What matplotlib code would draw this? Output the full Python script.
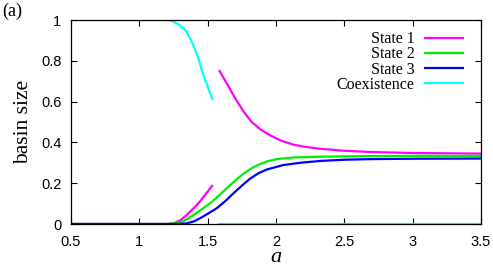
import numpy as np
import matplotlib
matplotlib.use("Agg")
import matplotlib.pyplot as plt

# ---- data ----
nan = np.nan
a_coex = [0.5, 1.0, 1.151, 1.224, 1.249, 1.298, 1.346, 1.395, 1.432, 1.468, 1.505, 1.537,
          nan, 1.576, 3.5]
coex   = [1.0, 1.0, 1.0, 0.998, 0.992, 0.975, 0.943, 0.877, 0.812, 0.730, 0.665, 0.608,
          nan, 0.0, 0.0]

a_s1 = [0.5, 1.2, 1.249, 1.30, 1.346, 1.38, 1.42, 1.45, 1.48, 1.51, 1.537, nan,
        1.583, 1.639, 1.70, 1.761, 1.822, 1.89, 1.956, 2.04, 2.127, 2.225, 2.322,
        2.5, 2.69, 3.0, 3.5]
s1   = [0.0, 0.0, 0.003, 0.018, 0.044, 0.066, 0.093, 0.116, 0.142, 0.167, 0.191, nan,
        0.755, 0.690, 0.618, 0.553, 0.500, 0.462, 0.435, 0.408, 0.389, 0.377, 0.369,
        0.359, 0.353, 0.348, 0.345]

a_s2 = [0.5, 1.22, 1.298, 1.35, 1.395, 1.45, 1.517, 1.58, 1.639, 1.70, 1.761, 1.82,
        1.883, 1.94, 2.005, 2.127, 2.322, 2.69, 3.0, 3.5]
s2   = [0.0, 0.0, 0.008, 0.024, 0.044, 0.069, 0.101, 0.138, 0.175, 0.212, 0.246, 0.273,
        0.294, 0.308, 0.318, 0.326, 0.330, 0.333, 0.334, 0.334]

a_s3 = [0.5, 1.26, 1.346, 1.40, 1.444, 1.50, 1.566, 1.63, 1.688, 1.75, 1.81, 1.87,
        1.932, 2.053, 2.176, 2.322, 2.5, 2.69, 3.0, 3.5]
s3   = [0.0, 0.0, 0.003, 0.013, 0.028, 0.050, 0.077, 0.113, 0.150, 0.188, 0.222, 0.248,
        0.267, 0.289, 0.300, 0.309, 0.315, 0.318, 0.320, 0.321]

xticks = [0.5, 1, 1.5, 2, 2.5, 3, 3.5]
xticklabels = ["0.5", "1", "1.5", "2", "2.5", "3", "3.5"]
yticks = [0, 0.2, 0.4, 0.6, 0.8, 1]
yticklabels = ["0", "0.2", "0.4", "0.6", "0.8", "1"]

serif = "Liberation Serif"
sans = "Liberation Sans"

fig = plt.figure(figsize=(4.93, 2.73), dpi=100)
ax = fig.add_axes([71/493, 1-224/273, 410/493, 204/273])

lw = 1.6
kw = dict(lw=lw, solid_joinstyle="round", solid_capstyle="butt")
ax.plot(a_s1, s1, color="#ff00ff", label="State 1", **kw)
ax.plot(a_s2, s2, color="#00ee00", label="State 2", **kw)
ax.plot(a_coex, coex, color="#00ffff", label="Coexistence", **kw)
ax.plot(a_s3, s3, color="#0000ff", label="State 3", **kw)

ax.set_xlim(0.5, 3.5)
ax.set_ylim(0, 1)
ax.set_xticks(xticks)
ax.set_xticklabels(xticklabels, fontfamily=sans, fontsize=10.5)
ax.set_yticks(yticks)
ax.set_yticklabels(yticklabels, fontfamily=sans, fontsize=10.5)
ax.tick_params(direction="in", length=4, width=0.8, top=True, right=True, pad=7)
ax.tick_params(axis="x", pad=8)
for s in ax.spines.values():
    s.set_linewidth(0.9)

ax.set_xlabel("a", fontfamily=serif, fontstyle="italic", fontsize=16, labelpad=-1)
ax.set_ylabel("basin size", fontfamily=serif, fontsize=15.5, labelpad=6)

h, l = ax.get_legend_handles_labels()
order = [0, 1, 3, 2]
leg = ax.legend([h[i] for i in order], [l[i] for i in order],
                loc="upper right", bbox_to_anchor=(393/410, 0.945),
                frameon=False, markerfirst=False, borderpad=0, borderaxespad=0,
                handlelength=2.5, handletextpad=0.6, labelspacing=-0.05,
                prop={"family": serif, "size": 11.5})

fig.text(2/493, 1-3/273, "(a)", fontfamily=serif, fontsize=13, va="top", ha="left")

fig.savefig("out.png", dpi=100)
